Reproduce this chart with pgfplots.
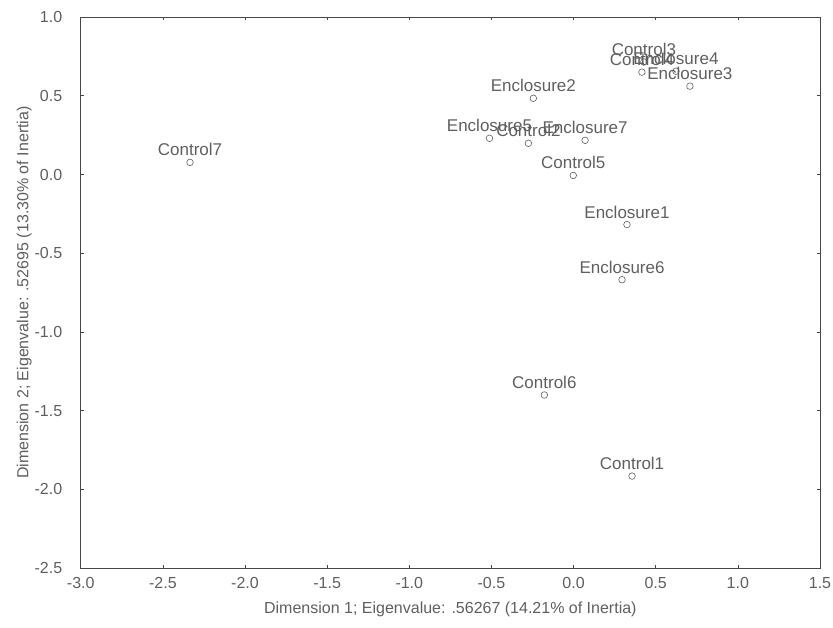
\documentclass[border=0pt]{standalone}
\usepackage{pgfplots}
\pgfplotsset{compat=1.18}
\usepackage{fontspec}
\setmainfont{Liberation Sans}
\definecolor{txt}{RGB}{95,95,95}
\definecolor{frm}{RGB}{70,70,70}
\begin{document}
\begin{tikzpicture}
\begin{axis}[name=ax,
  scale only axis, width=739pt, height=551pt,
  xmin=-3, xmax=1.5, ymin=-2.5, ymax=1.0,
  xtick={-3,-2.5,...,1.5}, ytick={-2.5,-2,...,1},
  tick align=inside, tick pos=both, major tick length=3pt,
  axis line style={frm, line width=0.9pt},
  every tick/.style={frm, line width=0.6pt},
  /pgf/number format/assume math mode=true,
  /pgf/number format/.cd, fixed, fixed zerofill, precision=1, /pgfplots/.cd,
  ticklabel style={font=\fontsize{16}{18}\selectfont, text=txt},
  xticklabel style={yshift=-6pt},
  yticklabel style={xshift=-15pt},
  xlabel={Dimension 1; Eigenvalue: .56267 (14.21\% of Inertia)},
  ylabel={Dimension 2; Eigenvalue: .52695 (13.30\% of Inertia)},
  label style={font=\fontsize{16}{18}\selectfont, text=txt},
  xlabel style={yshift=-6pt},
  ylabel style={yshift=-4pt},
  clip=false,
]
\addplot[only marks, mark=o, mark size=3.3pt, mark options={txt, line width=0.6pt},
  nodes near coords, point meta=explicit symbolic,
  every node near coord/.style={anchor=south, inner sep=0pt, yshift=6pt,
    font=\fontsize{17}{19}\selectfont, text=txt}]
table[meta=label]{
x y label
-2.335 0.077 Control7
-0.245 0.484 Enclosure2
-0.512 0.230 Enclosure5
-0.275 0.198 Control2
0.070 0.217 Enclosure7
-0.002 -0.006 Control5
0.325 -0.318 Enclosure1
0.295 -0.668 Enclosure6
-0.178 -1.400 Control6
0.356 -1.915 Control1
0.428 0.714 Control3
0.416 0.650 Control4
0.623 0.656 Enclosure4
0.708 0.561 Enclosure3
};
\end{axis}
\pgfresetboundingbox
\path ([shift={(-80.7pt,-59pt)}]ax.south west) rectangle ([shift={(13pt,17pt)}]ax.north east);
\end{tikzpicture}
\end{document}
